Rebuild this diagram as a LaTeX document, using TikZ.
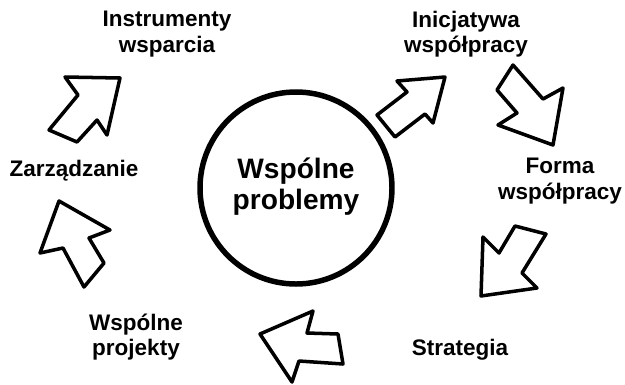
\documentclass[tikz,border=0pt]{standalone}
\usepackage{fontspec}
\setmainfont{Liberation Sans}
\begin{document}
\begin{tikzpicture}[x=0.025cm, y=-0.025cm,
  txt/.style={font=\fontsize{16}{18}\selectfont\bfseries, align=center},
  blockarrow/.style={draw, line width=2.5pt, line join=round, fill=white}]
  \useasboundingbox (0, 0) rectangle (625, 384);
  % the circle in the middle
  \draw [line width = 3.9pt] (296, 188) circle [radius = 96];
  \node [txt, font=\fontsize{20}{22}\selectfont\bfseries] (problemy) at (296, 187) {Wspólne\\problemy};
  % labels round the circle
  \node [txt] (inicjatywa) at (466, 34) {Inicjatywa\\współpracy};
  \node [txt] (forma) at (560, 181) {Forma\\współpracy};
  \node [txt] (strategia) at (460, 350) {Strategia};
  \node [txt] (projekty) at (136, 337) {Wspólne\\projekty};
  \node [txt] (zarzadzanie) at (74, 171) {Zarządzanie};
  \node [txt] (instrumenty) at (167, 34) {Instrumenty\\wsparcia};
  % block arrows, clockwise
  \draw [blockarrow] (445, 77) -- (397, 81) -- (407, 92) -- (377, 115) -- (395, 137) -- (425, 114) -- (433, 123) -- cycle;
  \draw [blockarrow] (513, 65) -- (497, 90) -- (517, 113) -- (498, 125) -- (553, 145) -- (563, 88) -- (543, 99) -- cycle;
  \draw [blockarrow] (515, 226) -- (546, 234) -- (522, 273) -- (537, 288) -- (481, 296) -- (483, 237) -- (499, 253) -- cycle;
  \draw [blockarrow] (313, 311) -- (307, 333) -- (338, 334) -- (343, 364) -- (299, 361) -- (292, 382) -- (260, 334) -- cycle;
  \draw [blockarrow] (59, 201) -- (110, 230) -- (89, 238) -- (104, 263) -- (84, 287) -- (63, 248) -- (40, 253) -- cycle;
  \draw [blockarrow] (120, 78) -- (65, 77) -- (78, 95) -- (49, 130) -- (77, 142) -- (97, 120) -- (107, 135) -- cycle;
\end{tikzpicture}
\end{document}
